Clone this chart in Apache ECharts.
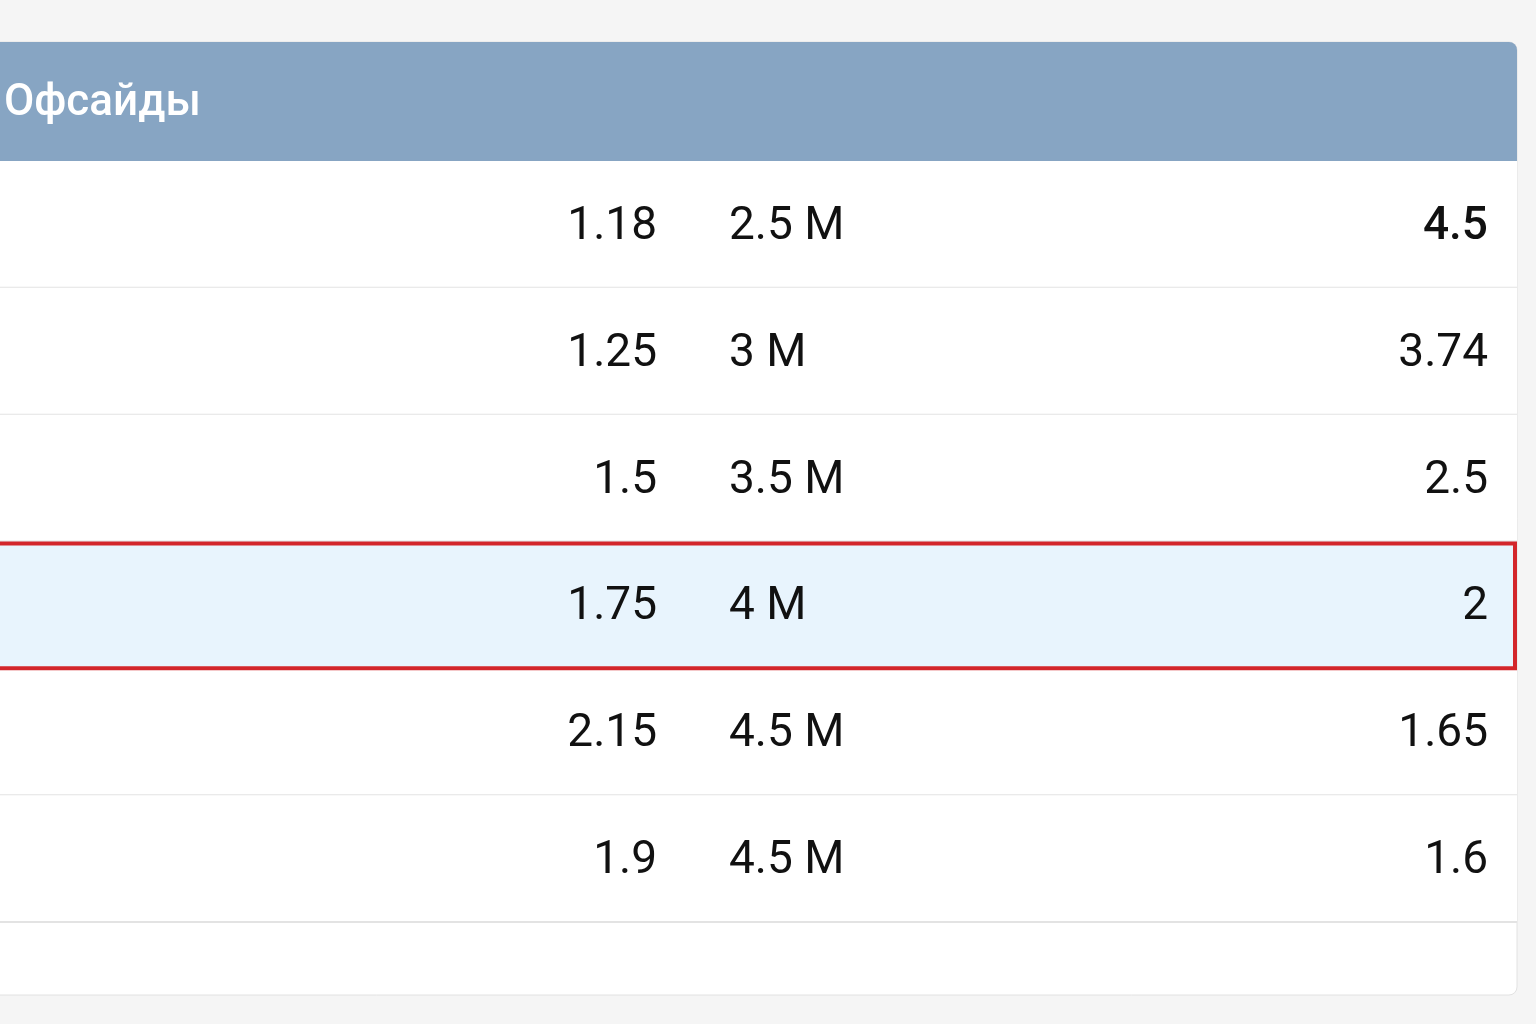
<!DOCTYPE html>
<html><head><meta charset="utf-8">
<script src="https://cdn.jsdelivr.net/npm/echarts@6/dist/echarts.min.js"></script>
<style>html,body{margin:0;padding:0;background:#f5f5f5}#c{width:1536px;height:1024px}</style>
</head><body><div id="c"></div>
<script>
const title = 'Офсайды';
const rows = ['r1','r2','r3','r4','r5','r6'];
const odds = ['1.18','1.25','1.5','1.75','2.15','1.9'];
const lines = ['2.5 М','3 М','3.5 М','4 М','4.5 М','4.5 М'];
const right = ['4.5','3.74','2.5','2','1.65','1.6'];
const highlightIndex = 3;
const boldIndex = 0;

const chart = echarts.init(document.getElementById('c'));
const font = 'Roboto, "Noto Sans", sans-serif';
chart.setOption({
  backgroundColor: '#f5f5f5',
  animation: false,
  graphic: [
    {type:'rect', shape:{x:-20,y:42,width:1537,height:953,r:[0,8,8,0]}, style:{fill:'#ffffff',stroke:'#e2e2e2',lineWidth:1}, z:-10},
    {type:'rect', shape:{x:-20,y:42,width:1537,height:119,r:[0,8,0,0]}, style:{fill:'#87a5c3'}, z:-9},
    {type:'text', x:4, y:104, style:{text:title, fill:'#ffffff', font:'500 44px '+font, textVerticalAlign:'middle'}, z:5}
  ],
  grid: {left:0, right:19, top:161, height:761},
  xAxis: {type:'value', min:0, max:1517, show:false},
  yAxis: {type:'category', data:rows, inverse:true, show:false},
  series: [{
    type:'custom',
    data: rows.map((r,i)=>[0,i]),
    encode:{x:0,y:1},
    renderItem: function(params, api){
      const i = api.value(1);
      const c = api.coord([0,i]);
      const h = api.size([0,1])[1];
      const top = c[1]-h/2;
      const ty = c[1]+3;
      const x0 = api.coord([0,0])[0];
      const x1 = api.coord([1517,0])[0];
      const hl = i===highlightIndex;
      const children = [];
      children.push({type:'rect', shape:{x:x0-10,y:top,width:x1-x0+10,height:h}, style:{fill: hl?'#e8f4fd':'#ffffff'}});
      children.push({type:'line', shape:{x1:x0-10,y1:top+h,x2:x1,y2:top+h}, style:{stroke:'#e3e3e3',lineWidth:2}});
      if (hl) children.push({type:'rect', shape:{x:x0-10,y:top+2,width:x1-x0+8,height:h-2}, style:{fill:null,stroke:'#d3262b',lineWidth:4}, z2:5});
      const f = '46px '+font;
      children.push({type:'text', style:{x:api.coord([657,0])[0], y:ty, text:odds[i], fill:'#111', font:f, textAlign:'right', textVerticalAlign:'middle'}, z2:6});
      children.push({type:'text', style:{x:api.coord([729,0])[0], y:ty, text:lines[i], fill:'#111', font:f, textAlign:'left', textVerticalAlign:'middle'}, z2:6});
      children.push({type:'text', style:{x:api.coord([1488,0])[0], y:ty, text:right[i], fill:'#111', font:(i===boldIndex?'500 ':'')+f, textAlign:'right', textVerticalAlign:'middle'}, z2:6});
      return {type:'group', children};
    }
  }]
});
</script></body></html>
